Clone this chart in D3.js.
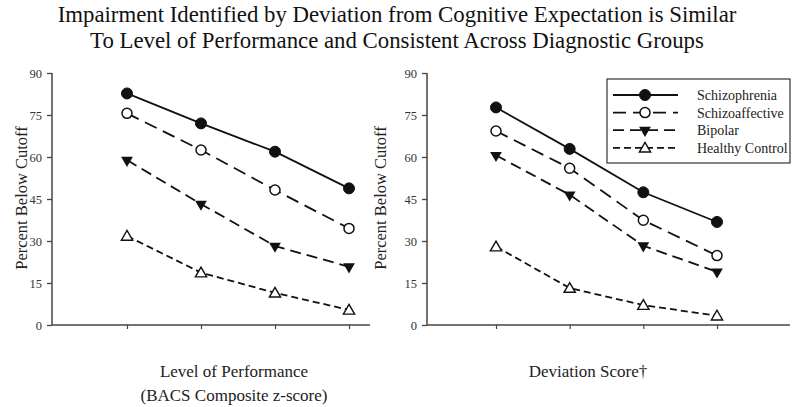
<!DOCTYPE html>
<html><head><meta charset="utf-8">
<script src="https://cdn.jsdelivr.net/npm/d3@7"></script>
<style>body{margin:0;background:#fff}svg{display:block}</style>
</head><body>
<svg id="c" width="800" height="407"></svg>
<script>
const titleLines = ["Impairment Identified by Deviation from Cognitive Expectation is Similar",
                    "To Level of Performance and Consistent Across Diagnostic Groups"];
const groups = ["Schizophrenia", "Schizoaffective", "Bipolar", "Healthy Control"];
const categories = [1, 2, 3, 4];
const yTicks = [0, 15, 30, 45, 60, 75, 90];
// Left panel: Level of Performance
const levelSchizophrenia = [82.7, 72.0, 61.9, 48.8];
const levelSchizoaffective = [75.6, 62.5, 48.2, 34.5];
const levelBipolar = [58.9, 43.2, 28.2, 20.8];
const levelHealthy = [31.8, 18.7, 11.5, 5.4];
// Right panel: Deviation Score
const devSchizophrenia = [77.7, 62.9, 47.4, 36.8];
const devSchizoaffective = [69.3, 56.0, 37.4, 24.8];
const devBipolar = [60.6, 46.5, 28.3, 19.0];
const devHealthy = [28.0, 13.2, 7.1, 3.3];

const styles = {
  "Schizophrenia": {dash: null, marker: "circleFill"},
  "Schizoaffective": {dash: "13,7", marker: "circleOpen"},
  "Bipolar": {dash: "11,6", marker: "triDown"},
  "Healthy Control": {dash: "7,4", marker: "triUp"}
};

const svg = d3.select("#c");
const serif = "'Liberation Serif', 'Times New Roman', serif";

svg.selectAll("text.title").data(titleLines).join("text")
  .attr("x", 397).attr("y", (d,i) => 22 + i*26)
  .attr("text-anchor", "middle").attr("font-family", serif).attr("font-size", 22.8)
  .attr("fill", "#111").text(d => d);

const y = d3.scaleLinear().domain([0, 90]).range([325, 73]);

function drawMarker(g, type, cx, cy) {
  if (type === "circleFill") g.append("circle").attr("cx", cx).attr("cy", cy).attr("r", 5.5).attr("fill", "#111").attr("stroke", "#111");
  else if (type === "circleOpen") g.append("circle").attr("cx", cx).attr("cy", cy).attr("r", 5).attr("fill", "#fff").attr("stroke", "#111").attr("stroke-width", 1.5);
  else if (type === "triDown") g.append("path").attr("d", d3.symbol().type(d3.symbolTriangle).size(60)()).attr("transform", `translate(${cx},${cy}) rotate(180)`).attr("fill", "#111");
  else g.append("path").attr("d", d3.symbol().type(d3.symbolTriangle).size(55)()).attr("transform", `translate(${cx},${cy + 1})`).attr("fill", "#fff").attr("stroke", "#111").attr("stroke-width", 1.4);
}

function panel(axisX, axisEnd, catRange, series, xLabelLines, xLabelCenter, yLabelX) {
  const g = svg.append("g");
  const x = d3.scalePoint().domain(categories).range(catRange);
  const ya = g.append("g").attr("transform", `translate(${axisX},0)`)
    .call(d3.axisLeft(y).tickValues(yTicks).tickSize(5).tickPadding(5));
  ya.select(".domain").attr("d", `M0,${y(90)}V${y(0)}`).attr("stroke", "#444").attr("stroke-width", 1.5);
  ya.selectAll(".tick line").attr("stroke", "#444").attr("stroke-width", 1.3);
  ya.selectAll("text").attr("font-family", serif).attr("font-size", 12.5).attr("fill", "#333");
  const xa = g.append("g").attr("transform", `translate(0,${y(0)})`)
    .call(d3.axisBottom(x).tickSize(4).tickFormat(""));
  xa.select(".domain").attr("d", `M${axisX},0H${axisEnd}`).attr("stroke", "#444").attr("stroke-width", 1.5);
  xa.selectAll(".tick line").attr("stroke", "#444").attr("stroke-width", 1.2);
  g.append("text").attr("transform", `translate(${yLabelX},198) rotate(-90)`)
    .attr("text-anchor", "middle").attr("font-family", serif).attr("font-size", 16.5).attr("fill", "#222")
    .text("Percent Below Cutoff");
  g.selectAll("text.xl").data(xLabelLines).join("text")
    .attr("x", xLabelCenter).attr("y", (d,i) => 377 + i*24)
    .attr("text-anchor", "middle").attr("font-family", serif).attr("font-size", 17).attr("fill", "#222").text(d => d);
  const line = d3.line().x((d,i) => x(categories[i])).y(d => y(d));
  groups.forEach((name, k) => {
    const vals = series[k];
    const st = styles[name];
    g.append("path").attr("d", line(vals)).attr("fill", "none").attr("stroke", "#111")
      .attr("stroke-width", 1.8).attr("stroke-dasharray", st.dash);
    vals.forEach((v, i) => drawMarker(g, st.marker, x(categories[i]), y(v)));
  });
}

panel(52, 370, [127, 349], [levelSchizophrenia, levelSchizoaffective, levelBipolar, levelHealthy],
      ["Level of Performance", "(BACS Composite z-score)"], 234, 27);
panel(427, 790, [496, 717], [devSchizophrenia, devSchizoaffective, devBipolar, devHealthy],
      ["Deviation Score\u2020"], 588, 386);

const lg = svg.append("g");
lg.append("rect").attr("x", 607).attr("y", 79).attr("width", 183).attr("height", 84)
  .attr("fill", "#fff").attr("stroke", "#333").attr("stroke-width", 1.2);
groups.forEach((name, k) => {
  const ly = 95 + k * 17.6;
  const st = styles[name];
  lg.append("line").attr("x1", 613).attr("x2", 678).attr("y1", ly).attr("y2", ly)
    .attr("stroke", "#111").attr("stroke-width", 1.8).attr("stroke-dasharray", st.dash);
  drawMarker(lg, st.marker, 645, ly);
  lg.append("text").attr("x", 697).attr("y", ly + 5).attr("font-family", serif).attr("font-size", 14)
    .attr("fill", "#222").text(name);
});
</script>
</body></html>
